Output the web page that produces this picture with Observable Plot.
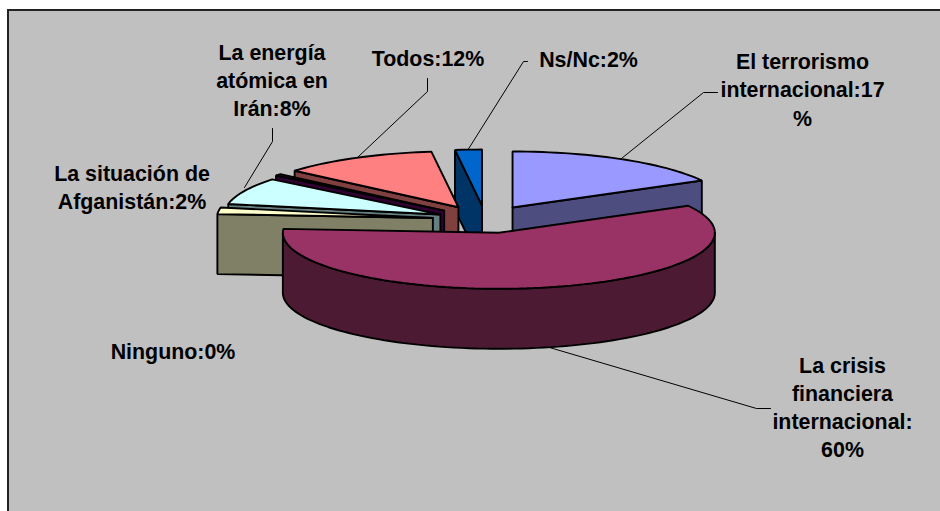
<!DOCTYPE html>
<html lang="es">
<head>
<meta charset="utf-8">
<style>html,body{margin:0;padding:0;background:#fff}svg{display:block}</style>
<script src="https://cdn.jsdelivr.net/npm/d3@7"></script>
<script src="https://cdn.jsdelivr.net/npm/@observablehq/plot@0.6"></script>
</head>
<body>
<div id="chart"></div>
<script>
// ---- data ----
const categories = ["El terrorismo internacional","La crisis financiera internacional","La situación de Afganistán","La energía atómica en Irán","Ninguno","Todos","Ns/Nc"];
const shares = [17, 59.1, 1.9, 7.8, 0.5, 11.7, 2.0];
const topColors = ["#9999FF","#993366","#FFFFCC","#CCFFFF","#660066","#FF8080","#0066CC"];
const wallColors = ["#4D4D80","#4D1A33","#808066","#668080","#330033","#804040","#003366"];
const labels = ["El terrorismo\ninternacional:17\n%","La crisis\nfinanciera\ninternacional:\n60%","La situación de\nAfganistán:2%","La energía\natómica en\nIrán:8%","Ninguno:0%","Todos:12%","Ns/Nc:2%"];

// ---- layout (pixels on the page) ----
const cx = 484, cy = 219.3, rx = 216, ry = 56, depthPx = 60;
const explode = [0.255, 0.255, 0.255, 0.225, 0.255, 0.255, 0.255];
const nudgeX = [0, 2.5, 3, 0, 2, 0, 1];
const nudgeY = [0, -1, 0, 0, 0, 0, 0];
const paintOrder = [0, 6, 5, 4, 3, 2, 1];
const labelX = [802, 842, 131.5, 271.5, 172.5, 427.5, 588];
const labelY = [88, 405.5, 185.5, 78.5, 349.5, 57, 57.5];
const leaderPaths = [
  [[621,158],[703,92],[717,92]],
  [[549,347],[756,408],[770,408]],
  null,
  [[272,128],[272,141],[244,187]],
  null,
  [[427,78],[427,91],[357,157]],
  [[467,150],[523,61],[527,61]]
];
const ux = p => (p - cx) / rx;
const uy = p => (cy - p) / ry;
const depth = depthPx / ry;

// ---- slice geometry in unit-circle space ----
const polys = [];
let acc = 0;
const total = d3.sum(shares);
const slices = shares.map((s, i) => {
  const start = 90 - 360 * acc / total;
  acc += s;
  const end = 90 - 360 * acc / total;
  return {i, start, end};
});
const rad = a => a * Math.PI / 180;
function arc(c, from, to) {
  const n = Math.max(2, Math.ceil(Math.abs(from - to) / 2));
  return d3.range(n + 1).map(k => {
    const a = rad(from + (to - from) * k / n);
    return [c[0] + Math.cos(a), c[1] + Math.sin(a)];
  });
}
function add(id, pts, fill) {
  [...pts, pts[0]].forEach(([u, v]) => polys.push({id, u, v, fill}));
}
for (const i of paintOrder) {
  const {start, end} = slices[i];
  const mid = rad((start + end) / 2);
  const c = [explode[i] * Math.cos(mid) + nudgeX[i] / rx, explode[i] * Math.sin(mid) - nudgeY[i] / ry];
  const edge = a => [c[0] + Math.cos(rad(a)), c[1] + Math.sin(rad(a))];
  const down = p => [p[0], p[1] - depth];
  const radial = a => {
    const e = edge(a);
    return [c, e, down(e), down(c)];
  };
  if (Math.cos(rad(start)) < -1e-6) add(`s${i}-ws`, radial(start), wallColors[i]);
  if (Math.cos(rad(end)) > 1e-6) add(`s${i}-we`, radial(end), wallColors[i]);
  const f = Math.min(start, 0), t = Math.max(end, -180);
  if (f > t) {
    const a = arc(c, f, t);
    add(`s${i}-wo`, [...a, ...a.slice().reverse().map(down)], wallColors[i]);
  }
  add(`s${i}-top`, [c, ...arc(c, start, end)], topColors[i]);
}
const leaders = leaderPaths.flatMap((p, i) => p ? p.map(([x, y]) => ({i, u: ux(x), v: uy(y)})) : []);
const labelRows = labels.map((text, i) => ({text, category: categories[i], u: ux(labelX[i]), v: uy(labelY[i])}));

const chart = Plot.plot({
  width: 940, height: 511,
  margin: 0,
  style: {background: "#fff"},
  x: {domain: [-1, 1], range: [cx - rx, cx + rx], axis: null},
  y: {domain: [-1, 1], range: [cy + ry, cy - ry], axis: null},
  color: {type: "identity"},
  marks: [
    Plot.rect([0], {x1: ux(8), x2: ux(960), y1: uy(10), y2: uy(530), fill: "#C0C0C0", stroke: "#222", strokeWidth: 2}),
    Plot.line(leaders, {x: "u", y: "v", z: "i", stroke: "#000", strokeWidth: 1}),
    Plot.line(polys, {x: "u", y: "v", z: "id", fill: "fill", stroke: "#000", strokeWidth: 1.9, strokeLinejoin: "miter"}),
    Plot.text(labelRows, {x: "u", y: "v", text: "text", fontSize: 21.4, fontWeight: "bold", fontFamily: "Liberation Sans", fill: "#000", lineHeight: 1.31, textAnchor: "middle", lineAnchor: "middle"})
  ]
});
document.getElementById("chart").append(chart);
</script>
</body>
</html>
